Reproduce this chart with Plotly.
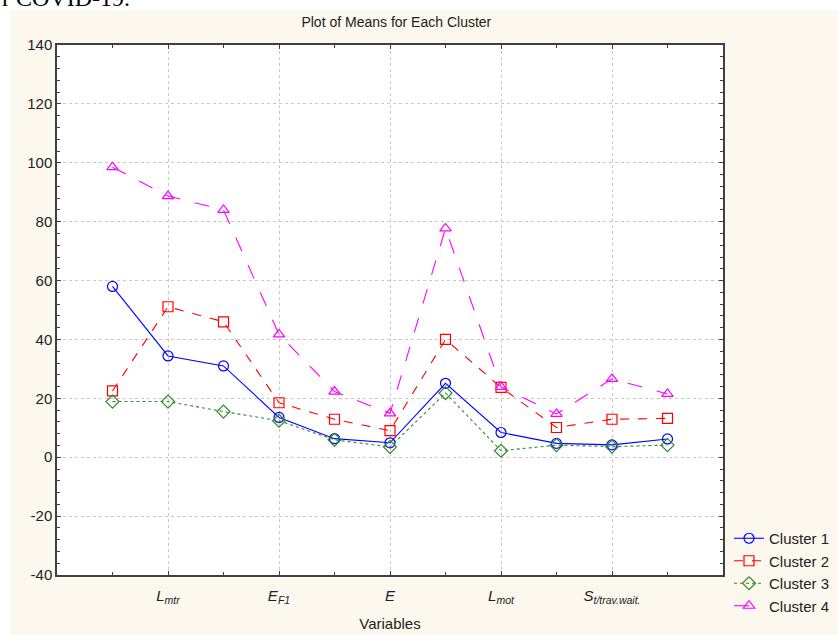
import plotly.graph_objects as go

positions = list(range(1, 12))
tick_positions = [2, 4, 6, 8, 10]
tick_labels = ["<i>L<sub>mtr</sub></i>", "<i>E<sub>F1</sub></i>", "<i>E</i>",
               "<i>L<sub>mot</sub></i>", "<i>S<sub>t/trav.wait.</sub></i>"]
y_tick_values = [-40, -20, 0, 20, 40, 60, 80, 100, 120, 140]
y_tick_labels = ["-40", "-20", "0", "20", "40", "60", "80", "100", "120", "140"]

cluster1 = [58.0, 34.4, 31.0, 13.5, 6.3, 4.9, 25.1, 8.4, 4.7, 4.2, 6.2]
cluster2 = [22.5, 51.1, 46.0, 18.5, 12.9, 9.0, 40.0, 23.7, 10.1, 12.9, 13.2]
cluster3 = [18.9, 18.9, 15.5, 12.4, 5.9, 3.5, 21.8, 2.2, 4.1, 3.6, 4.1]
cluster4 = [98.5, 88.7, 84.0, 41.7, 22.3, 14.9, 77.7, 23.9, 14.7, 26.6, 21.5]

series = [
    ("Cluster 1", cluster1, "#0000FF", "solid", "circle-open"),
    ("Cluster 2", cluster2, "#FF0000", "dash", "square-open"),
    ("Cluster 3", cluster3, "#2E8B2E", "dot", "diamond-open"),
    ("Cluster 4", cluster4, "#FF00FF", "longdash", "triangle-up-open"),
]

fig = go.Figure()
for name, vals, col, dash, sym in series:
    fig.add_trace(go.Scatter(
        x=positions, y=vals, name=name, mode="lines+markers",
        line=dict(color=col, width=1.1, dash=dash),
        marker=dict(symbol=sym, size=10, color=col, line=dict(width=1.2, color=col)),
    ))

# geometry: plot area 57..723 x 45..575
L, R, T, B = 57, 115, 45, 60
W, H = 838 - L - R, 635 - T - B

def px(xp):
    return (xp - L) / W

def py(yp):
    return (635 - B - yp) / H

fig.add_shape(type="rect", xref="paper", yref="paper",
              x0=px(10), x1=px(845), y0=py(645), y1=py(10),
              fillcolor="#FDF8EE", line=dict(width=0), layer="below")
fig.add_shape(type="rect", xref="paper", yref="paper",
              x0=0, x1=1, y0=0, y1=1,
              fillcolor="white", line=dict(width=0), layer="below")

fig.add_annotation(text="r COVID-19.", xref="paper", yref="paper",
                   x=px(0), y=py(13), xanchor="left", yanchor="bottom",
                   showarrow=False,
                   font=dict(family="Liberation Serif", size=24, color="black"))

fig.update_layout(
    width=838, height=635,
    margin=dict(l=L, r=R, t=T, b=B, autoexpand=False),
    paper_bgcolor="white", plot_bgcolor="rgba(0,0,0,0)",
    font=dict(family="Liberation Sans, Arial", size=14, color="#222222"),
    title=dict(text="Plot of Means for Each Cluster", x=px(372), xanchor="center",
               y=1 - 22 / 635, yanchor="middle", yref="container",
               font=dict(size=14, color="#222222")),
    showlegend=True,
    legend=dict(x=px(729), y=py(522), xanchor="left", yanchor="top",
                bgcolor="rgba(0,0,0,0)", font=dict(size=15, color="#222222"),
                tracegroupgap=0, itemwidth=30),
)

fig.update_xaxes(
    range=[0, 12], tickvals=tick_positions, ticktext=tick_labels,
    showgrid=True, gridcolor="#C8C8C8", griddash="dot", gridwidth=1,
    ticks="inside", ticklen=4, tickcolor="#404040",
    minor=dict(dtick=1, tick0=0, ticks="inside", ticklen=3, tickcolor="#404040", showgrid=False),
    showline=True, linecolor="#404040", linewidth=1.5, mirror="allticks",
    zeroline=False, automargin=False, ticklabelstandoff=6,
    tickfont=dict(size=15, color="#222222"),
    title=dict(text="Variables", font=dict(size=15, color="#222222"), standoff=14),
)
fig.update_yaxes(
    range=[-40, 140], tickvals=y_tick_values, ticktext=y_tick_labels,
    showgrid=True, gridcolor="#C8C8C8", griddash="dot", gridwidth=1,
    ticks="inside", ticklen=4, tickcolor="#404040",
    minor=dict(dtick=4, tick0=0, ticks="inside", ticklen=3, tickcolor="#404040", showgrid=False),
    showline=True, linecolor="#404040", linewidth=1.5, mirror="allticks",
    zeroline=False, automargin=False,
    tickfont=dict(size=15, color="#222222"),
)

fig.write_html("out.html", config={"displayModeBar": False},
               post_script="document.body.style.margin='0';document.body.style.overflow='hidden';")
